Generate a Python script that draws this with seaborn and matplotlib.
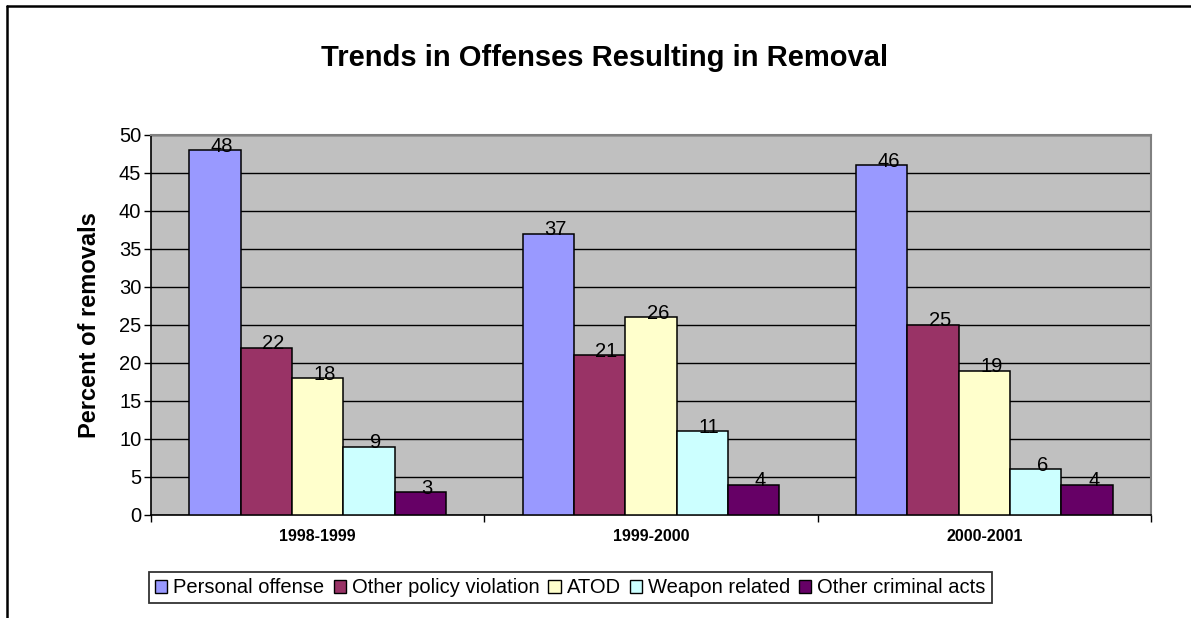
import matplotlib
matplotlib.use("Agg")
import matplotlib.pyplot as plt
from matplotlib.lines import Line2D
import seaborn as sns
import pandas as pd

years = ["1998-1999", "1999-2000", "2000-2001"]
offenses = ["Personal offense", "Other policy violation", "ATOD",
            "Weapon related", "Other criminal acts"]
personal = [48, 37, 46]
policy = [22, 21, 25]
atod = [18, 26, 19]
weapon = [9, 11, 6]
criminal = [3, 4, 4]
colors = ["#9999FF", "#993366", "#FFFFCC", "#CCFFFF", "#660066"]

series = [personal, policy, atod, weapon, criminal]
rows = []
for name, vals in zip(offenses, series):
    for yr, v in zip(years, vals):
        rows.append({"year": yr, "offense": name, "pct": v})
df = pd.DataFrame(rows)

sns.set_theme(style="white")
plt.rcParams["font.family"] = ["Liberation Sans", "DejaVu Sans"]
plt.rcParams["text.color"] = "black"
plt.rcParams["axes.labelcolor"] = "black"
plt.rcParams["xtick.color"] = "black"
plt.rcParams["ytick.color"] = "black"

fig = plt.figure(figsize=(11.91, 6.18), dpi=100)
ax = fig.add_axes([0.1268, 0.1667, 0.8396, 0.6149])
ax.set_facecolor("#C0C0C0")

sns.barplot(data=df, x="year", y="pct", hue="offense", order=years,
            hue_order=offenses, palette=colors, width=0.77, saturation=1,
            edgecolor="black", linewidth=1.1, ax=ax, zorder=3, legend=True)

# value labels just above each bar, nudged right
for cont, vals in zip(ax.containers, series):
    for bar, v in zip(cont, vals):
        ax.annotate(str(v), xy=(bar.get_x() + bar.get_width() / 2, v),
                    xytext=(5, 3), textcoords="offset points",
                    ha="center", va="center", fontsize=14.5, color="black",
                    zorder=5)

ax.set_ylim(0, 50)
ax.set_xlim(-0.5, 2.5)
ax.set_yticks(range(0, 51, 5))
ax.yaxis.grid(True, color="black", linewidth=1.0, zorder=1)
ax.xaxis.grid(False)
ax.set_axisbelow(True)

ax.tick_params(axis="y", which="major", direction="out", length=5,
               width=1, color="black", labelsize=14.5, pad=2, left=True)
ax.set_xticks(range(len(years)))
ax.set_xticklabels(years, fontsize=11.5, fontweight="bold")
ax.tick_params(axis="x", which="major", length=0, pad=10)
ax.set_xticks([-0.5, 0.5, 1.5, 2.5], minor=True)
ax.tick_params(axis="x", which="minor", direction="out", length=5,
               width=1, color="black", bottom=True)

ax.set_xlabel("")
ax.set_ylabel("Percent of removals", fontsize=17, fontweight="bold",
              labelpad=13)

for side in ["left", "bottom"]:
    ax.spines[side].set_color("black")
    ax.spines[side].set_linewidth(1.2)
for side in ["top", "right"]:
    ax.spines[side].set_color("#808080")
    ax.spines[side].set_linewidth(1.5)
    ax.spines[side].set_visible(True)

handles, labels = ax.get_legend_handles_labels()
ax.get_legend().remove()
leg = fig.legend(handles, labels, loc="center", bbox_to_anchor=(0.479, 0.049),
                 ncol=5, frameon=True, fancybox=False, fontsize=14.5,
                 handlelength=0.6, handleheight=0.6, handletextpad=0.3,
                 columnspacing=0.45, borderpad=0.3, borderaxespad=0)
leg.get_frame().set_edgecolor("black")
leg.get_frame().set_linewidth(1.3)
for h in leg.legend_handles:
    h.set_edgecolor("black")
    h.set_linewidth(1.0)

fig.text(0.508, 0.906, "Trends in Offenses Resulting in Removal",
         ha="center", va="center", fontsize=21, fontweight="bold")

# outer chart frame (top and left edges)
fig.add_artist(Line2D([0.0055, 1.0], [0.9895, 0.9895], color="black",
                      linewidth=1.8, transform=fig.transFigure))
fig.add_artist(Line2D([0.0055, 0.0055], [0.0, 0.9895], color="black",
                      linewidth=1.8, transform=fig.transFigure))

fig.savefig("out.png", dpi=100, facecolor="white")
